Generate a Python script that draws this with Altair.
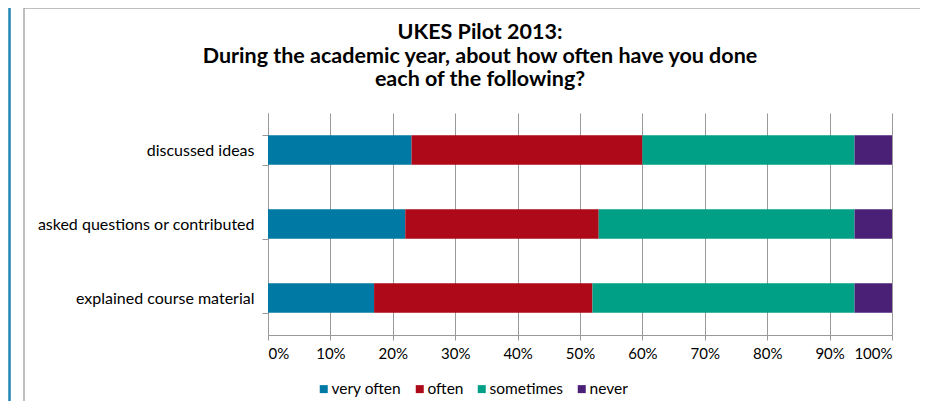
import altair as alt
import pandas as pd

categories = ["discussed ideas", "asked questions or contributed", "explained course material"]
levels = ["very often", "often", "sometimes", "never"]
very_often = [23, 22, 17]
often = [37, 31, 35]
sometimes = [34, 41, 42]
never = [6, 6, 6]
colors = ["#007AA5", "#AD0918", "#00A086", "#4A2076"]
title_lines = ["UKES Pilot 2013:",
               "During the academic year, about how often have you done",
               "each of the following?"]

rows = []
for i, c in enumerate(categories):
    for k, (lvl, vals) in enumerate(zip(levels, [very_often, often, sometimes, never])):
        rows.append({"item": c, "freq": lvl, "value": vals[i], "ord": k})
df = pd.DataFrame(rows)

FONT = "Lato"
W, H = 624, 222

bars = alt.Chart(df).mark_bar().encode(
    y=alt.Y("item:N", sort=categories, title=None,
            scale=alt.Scale(paddingInner=0.6, paddingOuter=0.3),
            axis=alt.Axis(tickBand="extent", tickSize=6, tickColor="#999999",
                          domainColor="#999999", labelFontSize=16, labelFont=FONT,
                          labelColor="#000000", labelPadding=8, labelLimit=400,
                          grid=False)),
    x=alt.X("value:Q", stack="normalize", title=None,
            scale=alt.Scale(domain=[0, 1], nice=False),
            axis=alt.Axis(format=".0%", values=[i / 10 for i in range(11)],
                          tickSize=5, tickColor="#999999", domainColor="#999999",
                          gridColor="#999999", grid=True, labelFontSize=15,
                          labelFont=FONT, labelColor="#000000", labelPadding=6)),
    color=alt.Color("freq:N", sort=levels,
                    scale=alt.Scale(domain=levels, range=colors),
                    legend=alt.Legend(orient="none", direction="horizontal",
                                      legendX=48, legendY=268, title=None,
                                      symbolType="square", symbolSize=64,
                                      symbolStrokeWidth=0, labelFontSize=15.5,
                                      labelFont=FONT, labelColor="#000000",
                                      columnPadding=10, labelOffset=0)),
    order=alt.Order("ord:Q"),
)

one = pd.DataFrame({"a": [0]})
frame_left = alt.Chart(one).mark_rule(color="#aaaaaa", strokeWidth=1.5).encode(
    x=alt.value(-244), y=alt.value(-105), y2=alt.value(H + 80))
frame_top = alt.Chart(one).mark_rule(color="#aaaaaa", strokeWidth=1.5).encode(
    x=alt.value(-244), x2=alt.value(W + 60), y=alt.value(-105))
blue_edge = alt.Chart(one).mark_rule(color="#1F86B4", strokeWidth=2.5).encode(
    x=alt.value(-258.5), y=alt.value(-106), y2=alt.value(H + 80))
title = alt.Chart(one).mark_text(
    align="center", baseline="top", fontSize=21.5, font=FONT, fontWeight="bold",
    color="#000000", lineHeight=23.5).encode(
    x=alt.value(212), y=alt.value(-91), text=alt.value(title_lines))

chart = alt.layer(blue_edge, frame_left, frame_top, title, bars).properties(
    width=W, height=H,
    autosize=alt.AutoSizeParams(type="none"),
    padding={"left": 260, "top": 105, "right": 28, "bottom": 66},
).configure_view(stroke=None)

chart.save("out.html", embed_options={"renderer": "svg", "actions": False})
